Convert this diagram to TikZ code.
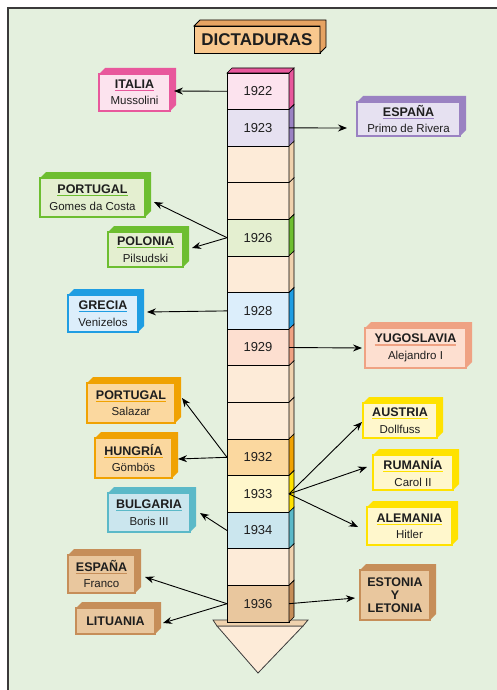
\documentclass[tikz,border=0pt]{standalone}
\usepackage{fontspec}
\setmainfont{Liberation Sans}
\usetikzlibrary{arrows.meta}
\definecolor{bg}{HTML}{E4F0DE}
\definecolor{frm}{HTML}{3A3A3A}
\definecolor{pkL}{HTML}{FCE3EE}\definecolor{pkD}{HTML}{E8589C}
\definecolor{puL}{HTML}{E6E1F1}\definecolor{puD}{HTML}{9A82C2}
\definecolor{grL}{HTML}{E4EFD0}\definecolor{grD}{HTML}{6DBE30}
\definecolor{blL}{HTML}{DCEEFB}\definecolor{blD}{HTML}{1F9DE2}
\definecolor{saL}{HTML}{FDDFD0}\definecolor{saD}{HTML}{EFA283}
\definecolor{orL}{HTML}{FBD89F}\definecolor{orD}{HTML}{F0A202}
\definecolor{yeL}{HTML}{FFF7CC}\definecolor{yeD}{HTML}{FFE200}
\definecolor{teL}{HTML}{CBE6EE}\definecolor{teD}{HTML}{5BB9C8}
\definecolor{brL}{HTML}{E9C79E}\definecolor{brD}{HTML}{C68E59}
\definecolor{peL}{HTML}{FDEBD8}\definecolor{peD}{HTML}{F0D2AE}
\definecolor{tiL}{HTML}{F9C88E}\definecolor{tiD}{HTML}{E6A362}
\definecolor{txt}{HTML}{1E1E1E}
\newcommand\ut[2]{\setbox0=\hbox{\bfseries #2}\leavevmode\rlap{\color{#1}\rule[-2.6pt]{\wd0}{1.1pt}}\box0}
\newcommand\subf{\fontsize{11.5}{13}\selectfont}
\newcommand\boxfaces[3]{\fill[#2] (#1.north west) -- ++(#3,-#3) -- ([shift={(#3,-#3)}]#1.north east) -- ([shift={(#3,-#3)}]#1.south east) -- (#1.south east) -- (#1.north east) -- cycle;}
\tikzset{
  cbox/.style n args={4}{draw=#1, fill=#2, line width=1.3pt, inner sep=0pt, outer sep=0pt,
    minimum width=#3, minimum height=#4, align=center, text=txt,
    font=\fontsize{12.5}{16.5}\selectfont},
  cell/.style={draw=black, line width=0.7pt, inner sep=0pt, outer sep=0pt,
    minimum width=62pt, minimum height=36.6pt, text=txt, font=\fontsize{13}{15}\selectfont},
  arr/.style={-{Stealth[length=9pt,width=7pt,inset=3pt]}, line width=0.9pt, black},
}
\begin{document}
\begin{tikzpicture}[x=1pt,y=-1pt]
\useasboundingbox (0,0) rectangle (497,690);
\fill[white] (0,0) rectangle (497,690);
\fill[bg] (8,8) rectangle (497,690);
\draw[frm, line width=1.6pt] (8,690) -- (8,8) -- (497,8);

% title
\node[draw=black, fill=tiL, line width=0.8pt, inner sep=0pt, outer sep=0pt, minimum width=126pt, minimum height=27pt,
  font=\fontsize{17}{19}\selectfont\bfseries, text=txt] (title) at (257,39.5) {DICTADURAS};
\filldraw[fill=tiD, draw=black, line width=0.8pt] (title.north west) -- ++(6,-6) -- ([shift={(6,-6)}]title.north east) -- ([shift={(6,-6)}]title.south east) -- (title.south east) -- (title.north east) -- cycle;

% bottom arrow of the column
\coordinate (arL) at (217,626);
\coordinate (arR) at (303,626);
\coordinate (arTip) at (258,673);
\filldraw[fill=peL, draw=frm, line width=0.8pt] (arL) -- (arR) -- (arTip) -- cycle;
\filldraw[fill=peD, draw=frm, line width=0.8pt] (arL) -- ++(-4,-6) -- ([shift={(5,-6)}]arR) -- (arR) -- cycle;

% column cells
\foreach \i/\lab/\fc/\sc in {0/1922/pkL/pkD, 1/1923/puL/puD, 2//peL/peD, 3//peL/peD, 4/1926/grL/grD,
  5//peL/peD, 6/1928/blL/blD, 7/1929/saL/saD, 8//peL/peD, 9//peL/peD, 10/1932/orL/orD,
  11/1933/yeL/yeD, 12/1934/teL/teD, 13//peL/peD, 14/1936/brL/brD}{
  \node[cell, fill=\fc] (c\i) at (258,{73+36.6*\i+18.3}) {\lab};
  \filldraw[fill=\sc, draw=black, line width=0.6pt] (c\i.north east) -- ++(5,-5) -- ([shift={(5,-5)}]c\i.south east) -- (c\i.south east) -- cycle;
}
\filldraw[fill=pkD, draw=black, line width=0.6pt] (c0.north west) -- ++(5,-5) -- ([shift={(5,-5)}]c0.north east) -- (c0.north east) -- cycle;

% country boxes
\node[cbox={pkD}{pkL}{71pt}{37pt}] (it) at (134.5,92.5) {\ut{pkD}{ITALIA}\\{\subf Mussolini}};
\boxfaces{it}{pkD}{6}
\node[cbox={puD}{puL}{103pt}{34pt}] (es1) at (408.5,119) {\ut{puD}{ESPAÑA}\\{\subf Primo de Rivera}};
\boxfaces{es1}{puD}{6}
\node[cbox={grD}{grL}{105pt}{39pt}] (pg) at (92.5,197.5) {\ut{grD}{PORTUGAL}\\{\subf Gomes da Costa}};
\boxfaces{pg}{grD}{6}
\node[cbox={grD}{grL}{75pt}{35pt}] (po) at (145.5,249.5) {\ut{grD}{POLONIA}\\{\subf Pilsudski}};
\boxfaces{po}{grD}{6}
\node[cbox={blD}{blL}{70pt}{37pt}] (gr) at (103,313.5) {\ut{blD}{GRECIA}\\{\subf Venizelos}};
\boxfaces{gr}{blD}{6}
\node[cbox={saD}{saL}{101pt}{40pt}] (yu) at (415.5,348) {\ut{saD}{YUGOSLAVIA}\\{\subf Alejandro I}};
\boxfaces{yu}{saD}{6}
\node[cbox={orD}{orL}{88pt}{40pt}] (ps) at (131,403) {\ut{orD}{PORTUGAL}\\{\subf Salazar}};
\boxfaces{ps}{orD}{6}
\node[cbox={orD}{orL}{77pt}{40pt}] (hu) at (133.5,458) {\ut{orD}{HUNGRÍA}\\{\subf Gömbös}};
\boxfaces{hu}{orD}{6}
\node[cbox={teD}{teL}{82pt}{39pt}] (bu) at (149,512.5) {\ut{teD}{BULGARIA}\\{\subf Boris III}};
\boxfaces{bu}{teD}{6}
\node[cbox={yeD}{yeL}{74pt}{35pt}] (au) at (400,420.5) {\ut{yeD}{AUSTRIA}\\{\subf Dollfuss}};
\boxfaces{au}{yeD}{6}
\node[cbox={yeD}{yeL}{80pt}{35pt}] (ru) at (413,472.5) {\ut{yeD}{RUMANÍA}\\{\subf Carol II}};
\boxfaces{ru}{yeD}{6}
\node[cbox={yeD}{yeL}{85pt}{38pt}] (al) at (409.5,526) {\ut{yeD}{ALEMANIA}\\{\subf Hitler}};
\boxfaces{al}{yeD}{6}
\node[cbox={brD}{brL}{67pt}{38pt}] (ef) at (101.5,574) {\ut{brD}{ESPAÑA}\\{\subf Franco}};
\boxfaces{ef}{brD}{6}
\node[cbox={brD}{brL}{79pt}{26pt}] (li) at (115.5,621) {\bfseries LITUANIA};
\boxfaces{li}{brD}{6}
\node[cbox={brD}{brL}{70pt}{50pt}, font=\fontsize{12.5}{13}\selectfont\bfseries] (el) at (395,595) {ESTONIA\\Y\\LETONIA};
\boxfaces{el}{brD}{6}

% arrow tips
\coordinate (tIt) at (174,91);
\coordinate (tEs1) at (347,128);
\coordinate (tPg) at (154,202);
\coordinate (tPo) at (192,248);
\coordinate (tGr) at (147,312);
\coordinate (tYu) at (362,348);
\coordinate (tPs) at (182,398);
\coordinate (tHu) at (178,459);
\coordinate (tBu) at (200,513);
\coordinate (tAu) at (362,422);
\coordinate (tRu) at (367,467);
\coordinate (tAl) at (358,527);
\coordinate (tEf) at (145,577);
\coordinate (tLi) at (163,623);
\coordinate (tEl) at (355,598);

\draw[arr] (c0.west) -- (tIt);
\draw[arr] (c1.east) -- (tEs1);
\draw[arr] (c4.west) -- (tPg);
\draw[arr] (c4.west) -- (tPo);
\draw[arr] (c6.west) -- (tGr);
\draw[arr] (c7.east) -- (tYu);
\draw[arr] (c10.west) -- (tPs);
\draw[arr] (c10.west) -- (tHu);
\draw[arr] (c12.west) -- (tBu);
\draw[arr] (c11.east) -- (tAu);
\draw[arr] (c11.east) -- (tRu);
\draw[arr] (c11.east) -- (tAl);
\draw[arr] (c14.west) -- (tEf);
\draw[arr] (c14.west) -- (tLi);
\draw[arr] (c14.east) -- (tEl);
\end{tikzpicture}
\end{document}
